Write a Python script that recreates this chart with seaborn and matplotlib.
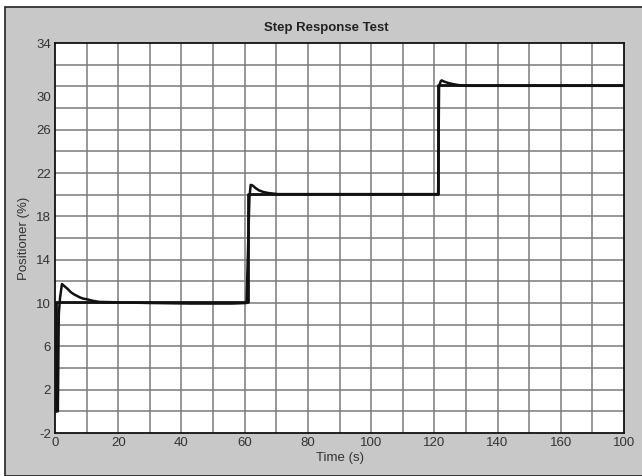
import numpy as np
import pandas as pd
import matplotlib
matplotlib.use("Agg")
import matplotlib.pyplot as plt
from matplotlib.patches import Rectangle
import seaborn as sns

# ---- data ----
setpoint_t = [0.4, 0.4, 61.2, 61.2, 121.3, 121.3, 180.0]
setpoint_v = [0.0, 10.1, 10.1, 20.1, 20.1, 30.1, 30.1]

resp_t = [0.9, 1.2, 1.6, 2.2, 3.0, 4.0, 5.0, 6.0, 7.0, 8.0, 9.0, 10.0, 12.0, 14.0,
          30.0, 43.0, 56.0, 60.6, 61.5, 61.9, 62.5, 63.5, 64.5, 65.9, 67.5, 69.0,
          70.6, 121.2, 121.5, 122.0, 122.3, 123.0, 124.5, 126.0, 128.0, 129.7, 180.0]
resp_v = [0.0, 9.0, 10.5, 11.75, 11.55, 11.3, 11.0, 10.8, 10.65, 10.5, 10.4, 10.35,
          10.2, 10.1, 10.0, 9.95, 9.95, 10.0, 19.7, 20.9, 20.85, 20.6, 20.4, 20.25,
          20.15, 20.1, 20.05, 20.05, 30.0, 30.45, 30.55, 30.45, 30.3, 30.2, 30.1, 30.05, 30.05]

ytick_pos = [-2, 2, 6, 10, 14, 18, 22, 26, 29.1, 34]
ytick_labels = ["-2", "2", "6", "10", "14", "18", "22", "26", "30", "34"]
xtick_pos = [0, 20, 40, 60, 80, 100, 120, 140, 160, 180]
xtick_labels = ["0", "20", "40", "60", "80", "100", "120", "140", "160", "100"]

title = "Step Response Test"
xlabel = "Time (s)"
ylabel = "Positioner (%)"

# ---- plot ----
sns.set_style("white")
plt.rcParams["font.family"] = ["Liberation Sans", "DejaVu Sans"]

fig = plt.figure(figsize=(6.42, 4.76), dpi=100)
fig.patch.set_facecolor("white")
bg = Rectangle((5 / 642, 0), 1.0, 1 - 7 / 476, transform=fig.transFigure,
               facecolor="#c8c8c8", edgecolor="#222222", linewidth=1.2, zorder=-10)
fig.patches.append(bg)

ax = fig.add_axes([55 / 642, 43 / 476, 569 / 642, 390 / 476])
ax.set_facecolor("white")

sp = pd.DataFrame({"t": setpoint_t, "v": setpoint_v})
rs = pd.DataFrame({"t": resp_t, "v": resp_v})
sns.lineplot(data=sp, x="t", y="v", ax=ax, color="#111111", linewidth=2.0,
             sort=False, estimator=None, zorder=5)
sns.lineplot(data=rs, x="t", y="v", ax=ax, color="#111111", linewidth=1.8,
             sort=False, estimator=None, zorder=6)

ax.set_xlim(0, 180)
ax.set_ylim(-2, 34)

# grid every 10 s and every 2 %
for gx in np.arange(10, 180, 10):
    ax.axvline(gx, color="#7a7a7a", linewidth=1.1, zorder=1)
for gy in np.arange(0, 34, 2):
    ax.axhline(gy, color="#7a7a7a", linewidth=1.1, zorder=1)

ax.set_xticks(xtick_pos)
ax.set_xticklabels(xtick_labels)
ax.set_yticks(ytick_pos)
ax.set_yticklabels(ytick_labels)
ax.grid(False)
ax.tick_params(which="both", length=0)
ax.tick_params(axis="both", labelsize=9.5, labelcolor="#333333")
ax.tick_params(axis="y", pad=3)
ax.tick_params(axis="x", pad=3)

for s in ax.spines.values():
    s.set_visible(True)
    s.set_color("#111111")
    s.set_linewidth(1.3)
    s.set_zorder(7)

ax.set_xlabel(xlabel, fontsize=9.5, color="#333333", labelpad=2)
ax.set_ylabel(ylabel, fontsize=9.5, color="#333333", labelpad=4)
fig.text(326 / 642, 1 - 28 / 476, title, ha="center", va="center",
         fontsize=9.5, fontweight="bold", color="#222222")

fig.savefig("out.png", dpi=100)
